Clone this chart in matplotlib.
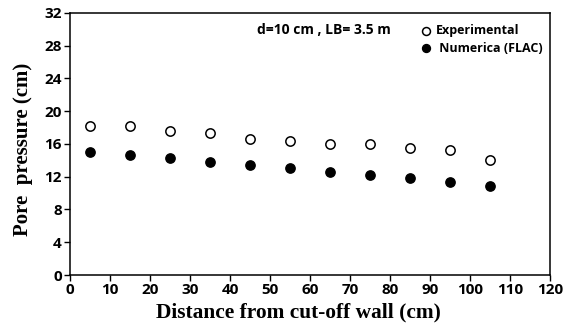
import matplotlib
matplotlib.use("Agg")
import matplotlib.pyplot as plt

distance = [5, 15, 25, 35, 45, 55, 65, 75, 85, 95, 105]
experimental = [18.2, 18.2, 17.6, 17.35, 16.6, 16.35, 16.0, 16.0, 15.55, 15.2, 14.0]
numerical = [15.05, 14.6, 14.25, 13.85, 13.45, 13.05, 12.6, 12.2, 11.8, 11.35, 10.9]
xticks = list(range(0, 121, 10))
yticks = list(range(0, 33, 4))

fig = plt.figure(figsize=(5.66, 3.34), dpi=100)
ax = fig.add_axes([0.1237, 0.1766, 0.848, 0.785])

ax.scatter(distance, experimental, s=45, facecolors="white", edgecolors="black",
           linewidths=1.1, label="Experimental", zorder=3)
ax.scatter(distance, numerical, s=45, facecolors="black", edgecolors="black",
           linewidths=1.0, label=" Numerica (FLAC)", zorder=3)

ax.set_xlim(0, 120)
ax.set_ylim(0, 32)
ax.set_xticks(xticks)
ax.set_yticks(yticks)
tickfont = {"family": "Open Sans", "weight": "bold", "size": 11}
ax.set_xticklabels([str(t) for t in xticks], fontdict=tickfont)
ax.set_yticklabels([str(t) for t in yticks], fontdict=tickfont)
ax.tick_params(direction="out", length=4, width=1.0, pad=2)
for sp in ax.spines.values():
    sp.set_linewidth(1.1)

labfont = {"family": "Liberation Serif", "weight": "bold", "size": 15.4}
ax.set_xlabel("Distance from cut-off wall (cm)", fontdict=labfont)
ax.set_ylabel("Pore  pressure (cm)", fontdict={**labfont, "size": 15})
ax.xaxis.set_label_coords(0.475, -0.105)
ax.yaxis.set_label_coords(-0.078, 0.481)

ax.text(0.389, 0.935, "d=10 cm , LB= 3.5 m", transform=ax.transAxes,
        fontfamily="Open Sans", fontweight="bold", fontsize=10, va="center", ha="left")

leg = ax.legend(loc="upper right", bbox_to_anchor=(1.0, 0.985), frameon=False,
                prop={"family": "Open Sans", "weight": "bold", "size": 9},
                handletextpad=0.3, labelspacing=0.35, borderaxespad=0.2,
                handlelength=1.0, markerscale=0.85)

fig.savefig("out.png", dpi=100)
